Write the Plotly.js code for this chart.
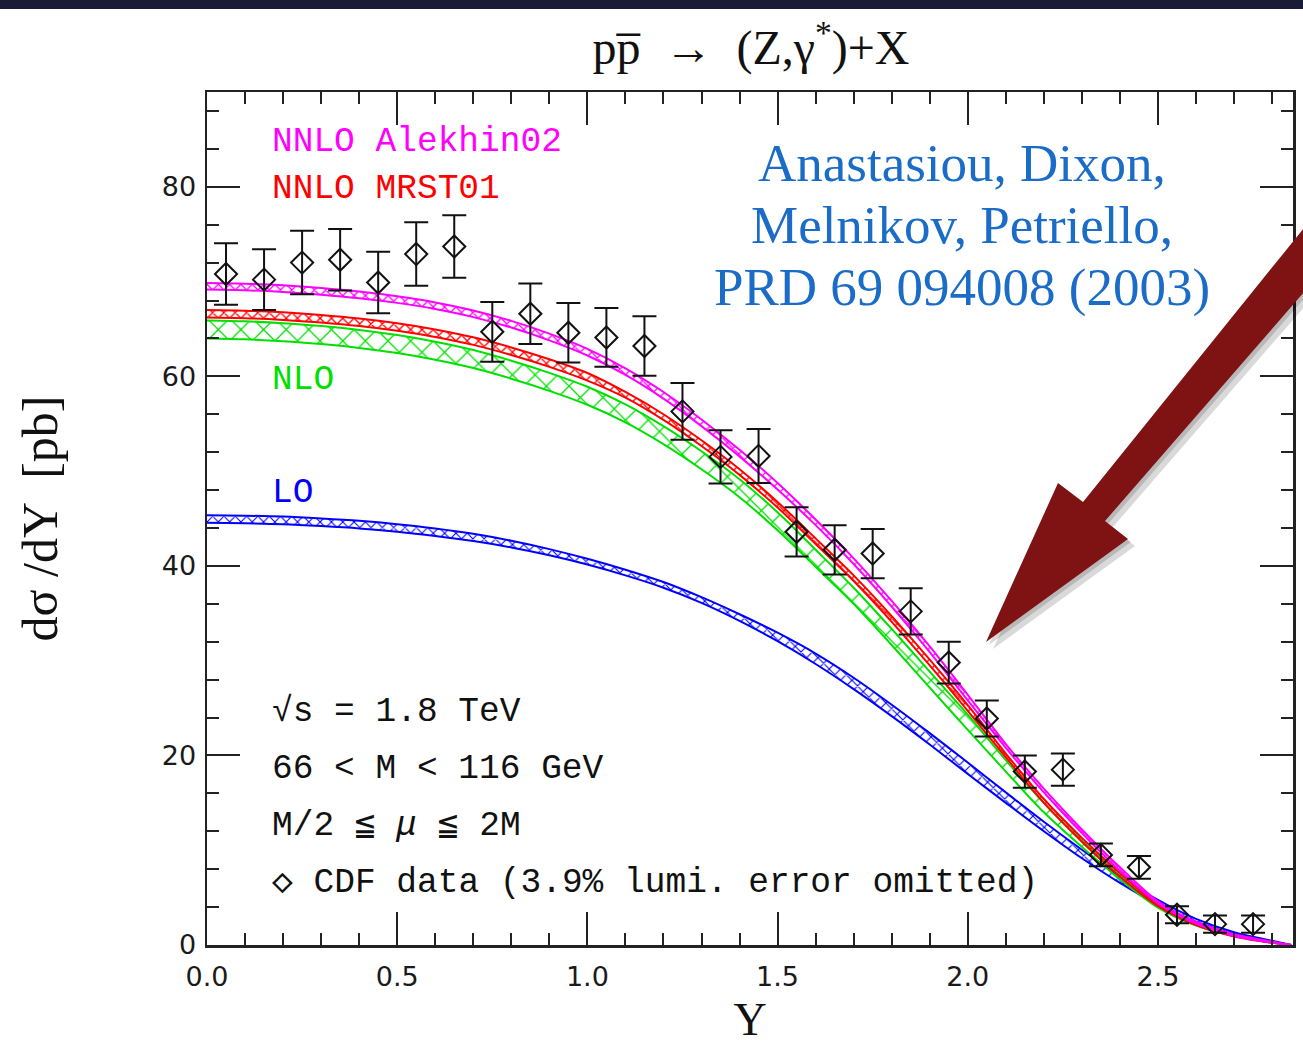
<!DOCTYPE html>
<html><head><meta charset="utf-8">
<script src="https://cdn.plot.ly/plotly-3.0.1.min.js"></script>
<style>html,body{margin:0;padding:0;background:#fff}#chart{width:1303px;height:1046px}</style>
</head><body><div id="chart"></div>
<script>
// ---- data ----
const rapidity = [0,0.1,0.2,0.3,0.4,0.5,0.6,0.7,0.8,0.9,1.0,1.1,1.2,1.3,1.4,1.5,1.6,1.7,1.8,1.9,2.0,2.1,2.2,2.3,2.4,2.5,2.6,2.7,2.8,2.85];

const nnloAlekhinHi = [69.85,69.78,69.6,69.32,68.95,68.45,67.8,66.95,65.85,64.5,62.9,60.85,58.35,55.45,52.25,48.75,44.9,40.8,36.3,31.5,26.4,21.2,16.5,12.2,8.2,4.6,2.45,1.15,0.35,0];
const nnloAlekhinLo = [69.15,69.08,68.9,68.62,68.25,67.75,67.1,66.25,65.15,63.8,62.2,60.15,57.65,54.75,51.55,48.05,44.3,40.2,35.7,30.9,25.8,20.8,16.1,11.8,7.8,4.4,2.25,0.95,0.25,0];

const nnloMrstHi = [67.0,66.93,66.75,66.47,66.1,65.6,64.95,64.12,63.05,61.8,60.35,58.35,56.0,53.25,50.2,46.75,42.9,39.0,34.7,30.1,25.3,20.2,15.4,11.3,7.6,4.3,2.3,1.1,0.33,0];
const nnloMrstLo = [66.2,66.13,65.95,65.67,65.3,64.8,64.15,63.32,62.25,61.0,59.55,57.75,55.4,52.65,49.6,46.15,42.3,38.4,34.1,29.5,24.7,19.8,15.0,10.9,7.2,4.1,2.1,0.9,0.23,0];

const nloHi = [65.9,65.81,65.61,65.3,64.9,64.35,63.65,62.77,61.65,60.37,58.9,57.05,54.75,52.1,49.15,45.65,41.7,37.7,33.35,28.85,24.3,19.5,15.0,11.05,7.45,4.25,2.25,1.05,0.3,0];
const nloLo = [64.0,63.91,63.71,63.4,63.0,62.45,61.75,60.87,59.75,58.47,57.0,55.15,52.85,50.2,47.25,43.75,39.9,36.0,31.65,27.15,22.7,18.3,14.0,10.35,6.95,3.95,2.05,0.95,0.24,0];

const loHi = [45.35,45.3,45.2,45.0,44.75,44.4,43.95,43.38,42.65,41.77,40.75,39.6,38.3,36.7,34.9,32.95,30.75,28.2,25.35,22.35,19.25,16.1,13.0,10.05,7.25,4.75,2.75,1.35,0.45,0];
const loLo = [44.55,44.5,44.4,44.2,43.95,43.6,43.15,42.62,41.95,41.13,40.15,39.0,37.7,36.1,34.2,32.05,29.65,27.0,24.15,21.15,18.05,15.0,12.0,9.15,6.55,4.25,2.45,1.15,0.35,0];

const cdfY = [0.05,0.15,0.25,0.35,0.45,0.55,0.65,0.75,0.85,0.95,1.05,1.15,1.25,1.35,1.45,1.55,1.65,1.75,1.85,1.95,2.05,2.15,2.25,2.35,2.45,2.55,2.65,2.75];
const cdfXsec = [70.8,70.2,72.0,72.3,69.9,72.9,73.7,64.7,66.6,64.6,64.1,63.2,56.3,51.5,51.6,43.6,41.7,41.3,35.2,29.8,23.9,18.3,18.5,9.5,8.2,3.2,2.2,2.2];
const cdfErr = [3.25,3.2,3.35,3.25,3.25,3.35,3.3,3.15,3.2,3.15,3.1,3.15,3.0,2.8,2.85,2.6,2.6,2.6,2.45,2.2,1.9,1.7,1.7,1.2,1.2,0.9,0.9,0.9];

const xTickVals = [0,0.5,1.0,1.5,2.0,2.5];
const xTickLabels = ['0.0','0.5','1.0','1.5','2.0','2.5'];

// ---- layout geometry helpers (pixels -> paper) ----
const W = 1303, H = 1046, ML = 207, MR = 10, MT = 92, MB = 101;
const PW = W - ML - MR, PH = H - MT - MB;
const px = p => (p - ML) / PW;
const py = p => (H - MB - p) / PH;

const MAG = '#ff00ff', RED = '#ff0000', GRN = '#00e000', BLU = '#0000ff';

function band(hi, lo, color, patSize, sol) {
  return [
    {x: rapidity, y: lo, type: 'scatter', mode: 'lines', line: {color: color, width: 2, shape: 'spline', smoothing: 0.8}, hoverinfo: 'skip'},
    {x: rapidity, y: hi, type: 'scatter', mode: 'lines', line: {color: color, width: 2, shape: 'spline', smoothing: 0.8},
     fill: 'tonexty', fillcolor: 'rgba(0,0,0,0)',
     fillpattern: {shape: 'x', fgcolor: color, bgcolor: 'rgba(255,255,255,0)', size: patSize, solidity: sol},
     hoverinfo: 'skip'}
  ];
}

const traces = [].concat(
  band(loHi, loLo, BLU, 8, 0.25),
  band(nloHi, nloLo, GRN, 16, 0.15),
  band(nnloMrstHi, nnloMrstLo, RED, 8, 0.3),
  band(nnloAlekhinHi, nnloAlekhinLo, MAG, 8, 0.3),
  [{
    x: cdfY, y: cdfXsec, type: 'scatter', mode: 'markers',
    marker: {symbol: 'diamond-open', size: 17, color: '#111', line: {width: 2, color: '#111'}},
    error_y: {type: 'data', array: cdfErr, visible: true, color: '#111', thickness: 2, width: 12},
    hoverinfo: 'skip'
  }]
);

const monoFont = (c) => ({family: 'Liberation Mono, DejaVu Sans Mono, monospace', size: 34.5, color: c});
const serifBlue = {family: 'Liberation Serif, Times New Roman, serif', size: 53, color: '#1a6cc6'};

function label(text, xp, yp, font, anchor) {
  return {text: text, xref: 'paper', yref: 'paper', x: px(xp), y: py(yp), xanchor: anchor || 'left', yanchor: 'middle', showarrow: false, font: font};
}

const annotations = [
  label('NNLO Alekhin02', 270, 142, monoFont(MAG)),
  label('NNLO MRST01', 270, 188, monoFont(RED)),
  label('NLO', 270, 379, monoFont(GRN)),
  label('LO', 270, 492, monoFont(BLU)),
  label('√s = 1.8 TeV', 270, 711, monoFont('#111')),
  label('66 &lt; M &lt; 116 GeV', 270, 768, monoFont('#111')),
  label('M/2 ≦ <i>μ</i> ≦ 2M', 270, 825, monoFont('#111')),
  label('◇ CDF data (3.9% lumi. error omitted)', 270, 882, monoFont('#111')),
  label('Anastasiou, Dixon,', 962, 163, serifBlue, 'center'),
  label('Melnikov, Petriello,', 962, 225, serifBlue, 'center'),
  label('PRD 69 094008 (2003)', 962, 287, serifBlue, 'center')
];

// arrow (decoration), in pixel space
const P = (a, b) => px(a).toFixed(5) + ',' + py(b).toFixed(5);
function arrowPath(dx, dy) {
  const pts = [[986,642],[1058,483],[1083,502],[1312,218],[1312,283],[1105,521],[1128,539]];
  return 'M' + pts.map(p => P(p[0] + dx, p[1] + dy)).join(' L') + ' Z';
}

const shapes = [
  {type: 'rect', xref: 'paper', yref: 'paper', x0: px(-5), x1: px(1310), y0: py(9), y1: py(-5), fillcolor: '#1a1b36', line: {width: 0}, layer: 'above'},
  {type: 'path', xref: 'paper', yref: 'paper', path: arrowPath(7, 7), fillcolor: 'rgba(0,0,0,0.15)', line: {width: 0}, layer: 'above'},
  {type: 'path', xref: 'paper', yref: 'paper', path: arrowPath(3, 3), fillcolor: 'rgba(0,0,0,0.15)', line: {width: 0}, layer: 'above'},
  {type: 'path', xref: 'paper', yref: 'paper', path: arrowPath(0, 0), fillcolor: '#7f1313', line: {width: 0}, layer: 'above'}
];

const axisCommon = {
  ticks: 'inside', ticklen: 33, tickwidth: 2, tickcolor: '#222',
  showline: true, linecolor: '#222', linewidth: 2.5, mirror: 'ticks',
  showgrid: false, zeroline: false, automargin: false,
  tickfont: {family: 'DejaVu Sans, sans-serif', size: 27, color: '#1a1a1a'}
};

const layout = {
  width: W, height: H,
  margin: {l: ML, r: MR, t: MT, b: MB},
  paper_bgcolor: '#ffffff', plot_bgcolor: '#ffffff',
  showlegend: false,
  title: {
    text: 'pp\u0305  →  (Z,γ<sup>*</sup>)+X',
    font: {family: 'Liberation Serif, Times New Roman, serif', size: 48, color: '#111'},
    xref: 'paper', x: px(751), xanchor: 'center',
    yref: 'container', y: 1 - 47 / H, yanchor: 'middle'
  },
  xaxis: Object.assign({}, axisCommon, {
    range: [0, 2.855], tickmode: 'array', tickvals: xTickVals, ticktext: xTickLabels,
    ticklabelstandoff: 6,
    minor: {dtick: 0.1, tick0: 0, ticklen: 12, tickwidth: 2, tickcolor: '#222', ticks: 'inside', showgrid: false},
    title: {text: 'Y', font: {family: 'Liberation Serif, Times New Roman, serif', size: 46, color: '#111'}, standoff: 12}
  }),
  yaxis: Object.assign({}, axisCommon, {
    range: [0, 90], dtick: 20, tick0: 0,
    ticklabelstandoff: 3,
    minor: {dtick: 4, tick0: 0, ticklen: 12, tickwidth: 2, tickcolor: '#222', ticks: 'inside', showgrid: false},
    title: {text: 'dσ /dY  [pb]', font: {family: 'Liberation Serif, Times New Roman, serif', size: 50, color: '#111'}, standoff: 88}
  }),
  annotations: annotations,
  shapes: shapes
};

Plotly.newPlot('chart', traces, layout, {staticPlot: true, displayModeBar: false});
</script></body></html>
